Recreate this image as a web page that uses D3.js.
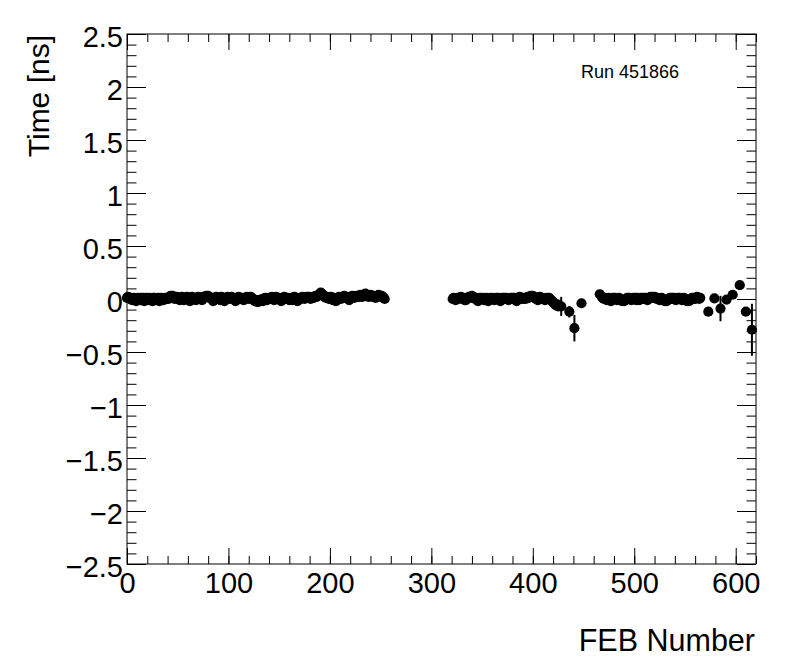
<!DOCTYPE html>
<html>
<head>
<meta charset="utf-8">
<script src="https://cdn.jsdelivr.net/npm/d3@7"></script>
<style>
  body { margin: 0; background: #ffffff; }
  svg text { font-family: "Liberation Sans", Arial, Helvetica, sans-serif; fill: #000; }
</style>
</head>
<body>
<div id="chart"></div>
<script>
// FEB timing offsets (ns)
const segAStart = 0;
const segAVals = [
  0.01, 0.02, 0.01, 0.00, 0.01, -0.01, 0.00, 0.01, 0.00, -0.02, 0.00, 0.01, 0.00, -0.01, 0.01, 0.00, 0.01, -0.02, 0.00, 0.01,
  0.00, -0.01, 0.01, 0.00, 0.00, -0.02, 0.01, 0.01, 0.00, -0.01, 0.00, 0.01, -0.02, 0.00, 0.01, 0.00, -0.01, 0.00, 0.01, 0.00,
  0.01, 0.00, 0.02, 0.03, 0.02, 0.03, 0.01, 0.00, 0.01, 0.02, 0.00, 0.01, -0.01, 0.00, 0.02, 0.01, -0.01, 0.01, 0.00, 0.02,
  0.01, 0.00, -0.02, 0.01, 0.02, 0.00, 0.01, 0.00, -0.01, 0.01, 0.02, 0.01, 0.00, 0.01, -0.01, 0.02, 0.01, 0.02, 0.03, 0.02,
  0.03, 0.02, 0.01, 0.00, 0.01, -0.02, 0.00, 0.01, 0.02, 0.01, 0.00, 0.01, -0.01, 0.02, 0.01, 0.00, -0.02, 0.00, 0.01, 0.02,
  0.01, 0.00, 0.01, 0.02, 0.00, 0.01, 0.00, -0.02, 0.00, 0.01, 0.02, 0.01, 0.00, 0.01, 0.00, -0.01, 0.00, 0.01, 0.02, 0.01,
  0.00, 0.01, 0.02, 0.01, 0.00, -0.01, -0.02, -0.02, -0.01, -0.03, -0.01, -0.02, -0.01, 0.00, -0.02, 0.00, 0.01, 0.00, -0.01, 0.00,
  0.01, 0.00, 0.01, 0.02, 0.01, -0.01, 0.01, 0.02, 0.01, 0.00, 0.01, 0.00, -0.02, 0.00, 0.01, 0.02, 0.01, 0.00, 0.01, 0.00,
  -0.01, 0.00, 0.01, -0.01, 0.01, 0.02, 0.01, 0.00, -0.02, 0.00, 0.01, 0.00, 0.01, 0.02, 0.01, 0.00, 0.01, 0.02, 0.01, 0.02,
  0.01, 0.00, 0.01, 0.02, 0.01, 0.02, 0.03, 0.02, 0.03, 0.04, 0.05, 0.06, 0.05, 0.04, 0.03, 0.02, 0.01, 0.02, 0.01, 0.00,
  0.01, 0.02, 0.01, -0.01, 0.01, 0.00, -0.02, 0.00, 0.01, 0.02, 0.01, 0.00, 0.01, 0.02, 0.03, 0.02, 0.01, 0.02, 0.01, -0.01,
  0.01, 0.02, 0.03, 0.02, 0.01, 0.02, 0.03, 0.02, 0.03, 0.02, 0.04, 0.03, 0.02, 0.03, 0.04, 0.05, 0.04, 0.03, 0.02, 0.03,
  0.04, 0.03, 0.02, 0.03, 0.02, 0.01, 0.02, 0.03, 0.04, 0.03, 0.02, 0.03, 0.02, 0.01, 0.00
];
const segBStart = 321;
const segBVals = [
  0.00, 0.01, 0.00, -0.01, 0.00, 0.01, 0.00, 0.01, 0.02, 0.01, 0.00, 0.01, -0.01, -0.01, 0.00, 0.01, 0.02, 0.01, 0.02, 0.03,
  0.02, 0.01, 0.00, 0.01, 0.00, -0.02, 0.00, 0.01, 0.00, 0.01, 0.00, -0.01, 0.00, 0.01, 0.00, -0.02, 0.00, 0.01, 0.00, 0.01,
  0.00, -0.01, 0.00, 0.01, 0.00, 0.01, 0.00, -0.02, 0.00, 0.01, 0.00, 0.01, 0.00, 0.01, 0.00, -0.01, 0.00, 0.01, 0.00, 0.01,
  0.00, 0.01, 0.00, -0.02, 0.00, 0.01, 0.02, 0.01, 0.00, 0.01, 0.00, 0.01, 0.00, 0.01, 0.02, 0.01, 0.02, 0.03, 0.02, 0.03,
  0.02, 0.01, 0.00, 0.01, -0.01, 0.01, 0.02, 0.01, 0.00, 0.01, 0.00, -0.01, 0.00, 0.01, 0.00, 0.01, 0.00, -0.01, -0.02, -0.03,
  -0.04, -0.05, -0.06, -0.05, -0.07
];
const segCStart = 468;
const segCVals = [
  0.02, 0.01, 0.00, 0.01, 0.00, -0.01, 0.00, 0.01, 0.00, -0.02, 0.00, 0.01, 0.00, 0.01, 0.00, -0.01, 0.00, 0.01, 0.00, -0.01,
  -0.02, -0.01, -0.02, -0.01, 0.00, 0.01, 0.00, 0.01, 0.00, -0.01, 0.00, 0.01, 0.00, 0.01, -0.01, 0.01, 0.00, -0.01, 0.00, 0.01,
  0.00, 0.01, 0.00, 0.01, 0.00, -0.01, 0.00, 0.01, 0.02, 0.01, 0.02, 0.01, 0.02, 0.01, 0.00, 0.01, 0.00, -0.01, 0.00, 0.01,
  0.00, -0.01, -0.02, -0.01, -0.02, -0.01, 0.00, 0.01, 0.00, 0.01, 0.00, 0.01, 0.00, -0.01, 0.00, 0.01, 0.00, 0.01, 0.00, -0.01,
  0.00, 0.01, 0.00, -0.01, -0.02, -0.01, -0.02, -0.01, 0.00, 0.01, 0.00, 0.01, 0.00, 0.01, 0.02, 0.01, 0.00, 0.01
];
// isolated points with visible error bars
const sparseFeb = [428, 436, 441, 448, 466, 573, 579, 585, 591, 597, 604, 610, 616];
const sparseVal = [-0.07, -0.12, -0.275, -0.04, 0.045, -0.12, 0.005, -0.09, -0.005, 0.04, 0.13, -0.12, -0.29];
const sparseErr = [0.09, 0.055, 0.125, 0.01, 0.01, 0.02, 0.02, 0.12, 0.02, 0.02, 0.02, 0.03, 0.245];

const xMajor = d3.range(0, 601, 100);
const xMinor = d3.range(0, 621, 20);
const yMajor = d3.range(-2.5, 2.51, 0.5);
const yMinor = d3.range(-25, 26).map(function(i){ return i/10; });

const runLabel = "Run 451866";
const xTitle = "FEB Number";
const yTitle = "Time [ns]";

function drawChart(id){
  let width = 796, height = 672;
  let frame = {left: 127, right: 756, top: 34, bottom: 564};

  let svg = d3.select(id)
      .append("svg")
      .attr("width", width)
      .attr("height", height);

  let x = d3.scaleLinear().domain([0, 620]).range([frame.left, frame.right]);
  let y = d3.scaleLinear().domain([-2.5, 2.5]).range([frame.bottom, frame.top]);

  // collect points
  let points = [];
  [[segAStart, segAVals], [segBStart, segBVals], [segCStart, segCVals]].forEach(function(s){
    s[1].forEach(function(v, i){ points.push({feb: s[0] + i, val: v, err: 0}); });
  });
  sparseFeb.forEach(function(f, i){
    points.push({feb: f, val: sparseVal[i], err: sparseErr[i]});
  });

  let fmt = d3.format("~g");

  // bottom axis, minor then major (ROOT style, ticks inside)
  svg.append("g")
      .attr("transform", "translate(0," + frame.bottom + ")")
      .call(d3.axisBottom(x).tickValues(xMinor).tickSize(-8).tickFormat(""));
  let xb = svg.append("g")
      .attr("class", "xaxis")
      .attr("transform", "translate(0," + frame.bottom + ")")
      .call(d3.axisBottom(x).tickValues(xMajor).tickSize(-16).tickPadding(8).tickFormat(fmt));
  xb.selectAll("text").style("font-size", "29px").attr("fill", "#000");

  // top axis
  svg.append("g")
      .attr("transform", "translate(0," + frame.top + ")")
      .call(d3.axisTop(x).tickValues(xMinor).tickSize(-8).tickFormat(""));
  svg.append("g")
      .attr("transform", "translate(0," + frame.top + ")")
      .call(d3.axisTop(x).tickValues(xMajor).tickSize(-16).tickFormat(""));

  // left axis
  svg.append("g")
      .attr("transform", "translate(" + frame.left + ",0)")
      .call(d3.axisLeft(y).tickValues(yMinor).tickSize(-9.5).tickFormat(""));
  let yl = svg.append("g")
      .attr("transform", "translate(" + frame.left + ",0)")
      .call(d3.axisLeft(y).tickValues(yMajor).tickSize(-19).tickPadding(4).tickFormat(fmt));
  yl.selectAll("text").style("font-size", "29px").attr("dy", "0.42em").attr("fill", "#000");

  // right axis
  svg.append("g")
      .attr("transform", "translate(" + frame.right + ",0)")
      .call(d3.axisRight(y).tickValues(yMinor).tickSize(-9.5).tickFormat(""));
  svg.append("g")
      .attr("transform", "translate(" + frame.right + ",0)")
      .call(d3.axisRight(y).tickValues(yMajor).tickSize(-19).tickFormat(""));

  svg.selectAll(".domain").remove();
  svg.selectAll(".tick line").attr("stroke", "#000").attr("stroke-width", 1);

  svg.append("rect")
      .attr("x", frame.left)
      .attr("y", frame.top)
      .attr("width", frame.right - frame.left)
      .attr("height", frame.bottom - frame.top)
      .attr("fill", "none")
      .attr("stroke", "#000")
      .attr("stroke-width", 1);

  // error bars
  svg.selectAll(".errbar")
      .data(points.filter(function(d){ return d.err > 0; }))
    .enter().append("line")
      .attr("class", "errbar")
      .attr("x1", function(d){ return x(d.feb); })
      .attr("x2", function(d){ return x(d.feb); })
      .attr("y1", function(d){ return y(d.val + d.err); })
      .attr("y2", function(d){ return y(d.val - d.err); })
      .attr("stroke", "#000")
      .attr("stroke-width", 2);

  // markers
  svg.selectAll(".marker")
      .data(points)
    .enter().append("circle")
      .attr("class", "marker")
      .attr("cx", function(d){ return x(d.feb); })
      .attr("cy", function(d){ return y(d.val); })
      .attr("r", 5.1)
      .attr("fill", "#000");

  // texts
  svg.append("text")
      .attr("x", 581)
      .attr("y", 78)
      .style("font-size", "18px")
      .text(runLabel);

  svg.append("text")
      .attr("x", frame.right - 1)
      .attr("y", 651)
      .style("text-anchor", "end")
      .style("font-size", "30.5px")
      .text(xTitle);

  svg.append("text")
      .attr("transform", "translate(49," + (frame.top + 1) + ") rotate(-90)")
      .style("text-anchor", "end")
      .style("font-size", "30px")
      .text(yTitle);
}

drawChart("#chart");
</script>
</body>
</html>
